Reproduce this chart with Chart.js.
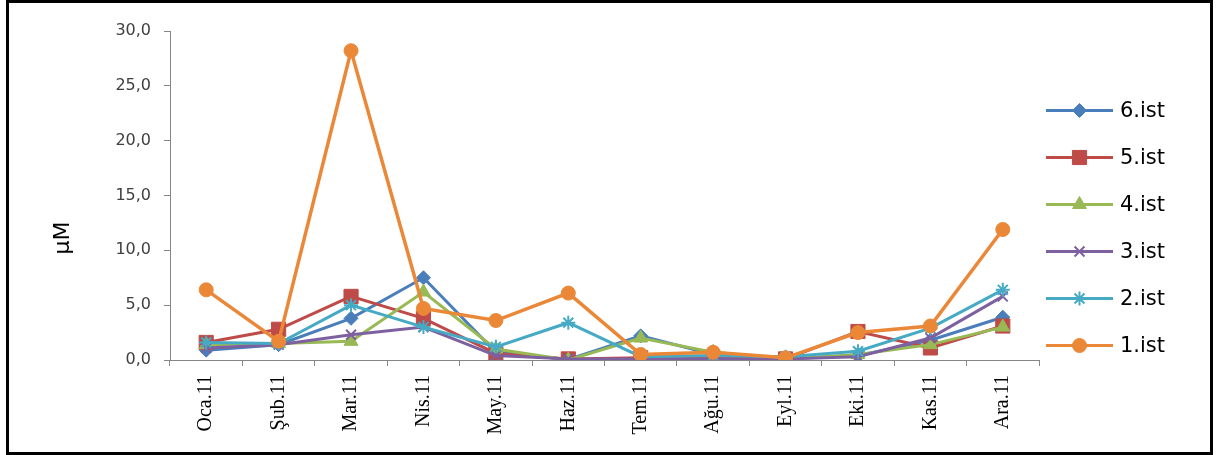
<!DOCTYPE html>
<html>
<head>
<meta charset="utf-8">
<style>
  html, body { margin: 0; padding: 0; background: #fff; }
  #wrap { position: relative; width: 1222px; height: 455px; }
</style>
<script src="https://cdn.jsdelivr.net/npm/chart.js@4.4.1/dist/chart.umd.min.js"></script>
</head>
<body>
<div id="wrap"><canvas id="c" width="1222" height="455"></canvas></div>
<script>
const categories = ['Oca.11','Şub.11','Mar.11','Nis.11','May.11','Haz.11','Tem.11','Ağu.11','Eyl.11','Eki.11','Kas.11','Ara.11'];
const seriesNames = ['6.ist','5.ist','4.ist','3.ist','2.ist','1.ist'];
const ist6 = [0.9, 1.4, 3.8, 7.5, 0.7, 0.05, 2.2, 0.5, 0.1, 0.4, 1.8, 3.9];
const ist5 = [1.6, 2.8, 5.8, 3.8, 0.6, 0.1, 0.2, 0.2, 0.1, 2.6, 1.1, 3.1];
const ist4 = [1.4, 1.5, 1.7, 6.2, 1.0, 0.0, 2.0, 0.7, 0.1, 0.5, 1.4, 3.0];
const ist3 = [1.1, 1.4, 2.3, 3.0, 0.4, 0.1, 0.1, 0.1, 0.1, 0.3, 2.0, 5.8];
const ist2 = [1.6, 1.5, 5.0, 3.0, 1.2, 3.4, 0.3, 0.4, 0.3, 0.8, 2.9, 6.4];
const ist1 = [6.4, 1.7, 28.2, 4.7, 3.6, 6.1, 0.5, 0.7, 0.2, 2.5, 3.1, 11.9];
const yTicks = [0, 5, 10, 15, 20, 25, 30];

const seriesValues = [ist6, ist5, ist4, ist3, ist2, ist1];
const colors = ['#4A7EBB', '#BE4B48', '#98B954', '#7D60A0', '#46AAC5', '#EA8838'];
const styles = ['rectRot', 'rect', 'triangle', 'crossRot', 'star', 'circle'];
const radii = [7, 10, 8, 7, 7, 7];

const datasets = seriesNames.map((name, i) => ({
  label: name,
  data: seriesValues[i],
  borderColor: colors[i],
  backgroundColor: colors[i],
  borderWidth: i === 5 ? 3.5 : 3,
  pointStyle: styles[i],
  pointRadius: radii[i],
  pointHoverRadius: radii[i],
  pointBackgroundColor: colors[i],
  pointBorderColor: colors[i],
  pointBorderWidth: (styles[i] === 'crossRot' || styles[i] === 'star') ? 2 : 1,
  tension: 0,
  order: 5 - i
}));

const framePlugin = {
  id: 'frame',
  beforeDraw(chart) {
    const ctx = chart.ctx;
    ctx.save();
    ctx.fillStyle = '#fff';
    ctx.fillRect(0, 0, chart.width, chart.height);
    ctx.restore();
  },
  afterDraw(chart) {
    const ctx = chart.ctx;
    ctx.save();
    // outer frame
    ctx.strokeStyle = '#000';
    ctx.lineWidth = 3;
    ctx.strokeRect(7.5, 1.5, 1204, 452);
    // y axis title
    ctx.fillStyle = '#000';
    ctx.font = '22px "DejaVu Sans"';
    ctx.textAlign = 'center';
    ctx.textBaseline = 'middle';
    ctx.translate(63, 238);
    ctx.rotate(-Math.PI / 2);
    ctx.fillText('µM', 0, 0);
    ctx.restore();

    // legend
    const lx0 = 1046, lx1 = 1113, tx = 1120, y0 = 110.5, dy = 47;
    chart.data.datasets.forEach((ds, i) => {
      const y = y0 + i * dy;
      ctx.save();
      ctx.strokeStyle = ds.borderColor;
      ctx.lineWidth = 3;
      ctx.beginPath();
      ctx.moveTo(lx0, y);
      ctx.lineTo(lx1, y);
      ctx.stroke();
      ctx.fillStyle = ds.pointBackgroundColor;
      ctx.strokeStyle = ds.pointBorderColor;
      ctx.lineWidth = ds.pointBorderWidth;
      Chart.helpers.drawPoint(ctx, {
        pointStyle: ds.pointStyle,
        radius: ds.pointRadius,
        rotation: 0,
        borderWidth: ds.pointBorderWidth
      }, (lx0 + lx1) / 2, y);
      ctx.fillStyle = '#000';
      ctx.font = '21px "DejaVu Sans"';
      ctx.textAlign = 'left';
      ctx.textBaseline = 'middle';
      ctx.fillText(ds.label, tx, y + 1);
      ctx.restore();
    });
  }
};

new Chart(document.getElementById('c'), {
  type: 'line',
  data: { labels: categories, datasets: datasets },
  options: {
    responsive: false,
    animation: false,
    devicePixelRatio: 1,
    layout: { padding: { left: 8, right: 183, top: 31, bottom: 10 } },
    plugins: { legend: { display: false }, tooltip: { enabled: false } },
    scales: {
      x: {
        type: 'category',
        offset: true,
        afterFit(scale) { scale.height = 85; },
        grid: { offset: true, drawOnChartArea: false, drawTicks: true, tickLength: 6, color: '#868686', lineWidth: 1 },
        border: { display: true, color: '#868686', width: 1 },
        ticks: {
          maxRotation: 90, minRotation: 90, autoSkip: false, padding: 9,
          color: '#000',
          font: { family: '"Liberation Serif", "Times New Roman", serif', size: 20 }
        }
      },
      y: {
        min: 0, max: 30,
        afterFit(scale) { scale.width = 162; },
        afterBuildTicks(scale) { scale.ticks = yTicks.map(v => ({ value: v })); },
        grid: { drawOnChartArea: false, drawTicks: true, tickLength: 6, color: '#868686' },
        border: { display: true, color: '#868686', width: 1 },
        ticks: {
          padding: 13,
          color: '#404040',
          font: { family: '"DejaVu Sans", Verdana, sans-serif', size: 16 },
          callback: (v) => Number(v).toFixed(1).replace('.', ',')
        }
      }
    }
  },
  plugins: [framePlugin]
});
</script>
</body>
</html>
